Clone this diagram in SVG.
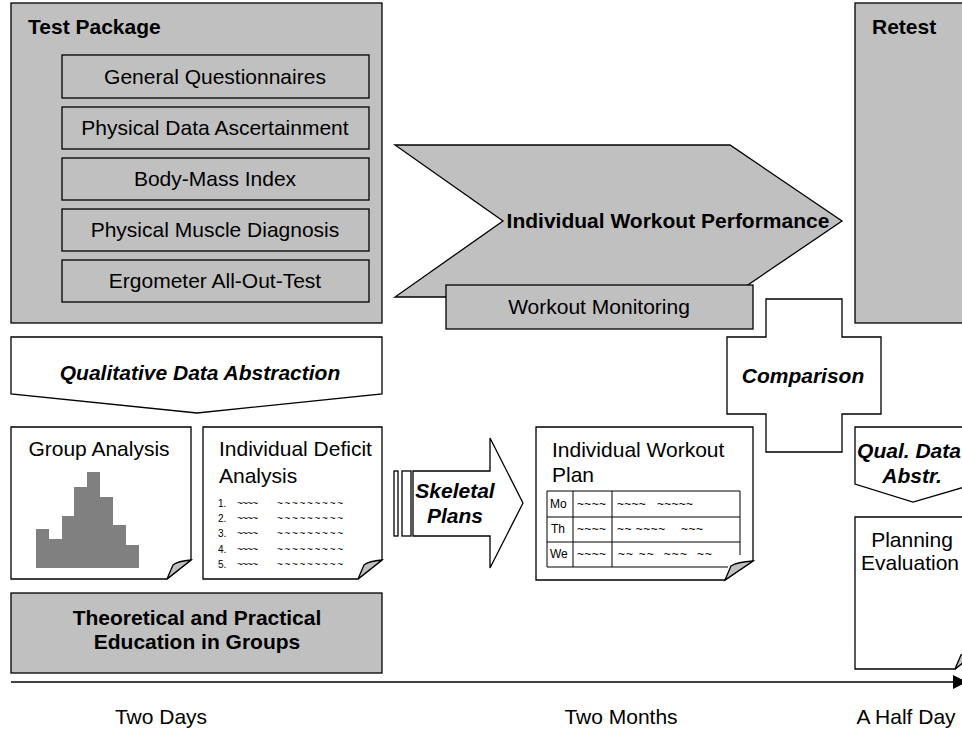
<svg xmlns="http://www.w3.org/2000/svg" width="962" height="729" viewBox="0 0 962 729">
<defs>
<style>
.t{font-family:"Liberation Sans",Arial,sans-serif;fill:#000}
.r{font-size:21px}
.b{font-size:21px;font-weight:bold}
.bi{font-size:21px;font-weight:bold;font-style:italic}
.m{text-anchor:middle}
.g{fill:#c0c0c0;stroke:#000;stroke-width:1.3}
.w{fill:#fff;stroke:#000;stroke-width:1.3}
.bar{fill:#808080}
.tl{stroke:#000;stroke-width:1;fill:none}
.sm{font-size:12px}
.xs{font-size:10px}
</style>
</defs>
<rect width="962" height="729" fill="#fff"/>

<g id="test-package">
<rect class="g" x="11" y="3" width="371" height="320"/>
<text class="t b" x="28" y="34">Test Package</text>
<rect class="g" x="62" y="55" width="307" height="43"/>
<text class="t r m" x="215" y="84">General Questionnaires</text>
<rect class="g" x="62" y="107" width="307" height="42"/>
<text class="t r m" x="215" y="135">Physical Data Ascertainment</text>
<rect class="g" x="62" y="158" width="307" height="42"/>
<text class="t r m" x="215" y="186">Body-Mass Index</text>
<rect class="g" x="62" y="209" width="307" height="42"/>
<text class="t r m" x="215" y="237">Physical Muscle Diagnosis</text>
<rect class="g" x="62" y="260" width="307" height="42"/>
<text class="t r m" x="215" y="288">Ergometer All-Out-Test</text>
</g>

<g id="workout-performance">
<polygon class="g" points="395,145 730,145 842,221 730,297 395,297 503,221"/>
<text class="t b m" x="668" y="228">Individual Workout Performance</text>
</g>

<g id="workout-monitoring">
<rect class="g" x="446" y="285" width="307" height="44"/>
<text class="t r m" x="599" y="314">Workout Monitoring</text>
</g>

<g id="retest">
<rect class="g" x="855" y="3" width="120" height="320"/>
<text class="t b" x="872" y="34">Retest</text>
</g>

<g id="qualitative-data-abstraction">
<polygon class="w" points="11,337 382,337 382,394 197,413 11,394"/>
<text class="t bi m" x="200" y="380">Qualitative Data Abstraction</text>
</g>

<g id="comparison">
<polygon class="w" points="766,299 842,299 842,337 881,337 881,414 842,414 842,452 766,452 766,414 727,414 727,337 766,337"/>
<text class="t bi m" x="803" y="383">Comparison</text>
</g>

<g id="group-analysis">
<path class="w" d="M11,427 H191 V560 L167,579 H11 Z"/>
<path class="g" d="M167,579 L173,565 Q178,561 191,560 Z"/>
<text class="t r m" x="99" y="456">Group Analysis</text>
<rect class="bar" x="36" y="529" width="13" height="39"/>
<rect class="bar" x="49" y="539" width="13" height="29"/>
<rect class="bar" x="62" y="516" width="12" height="52"/>
<rect class="bar" x="74" y="487" width="13" height="81"/>
<rect class="bar" x="87" y="472" width="13" height="96"/>
<rect class="bar" x="100" y="497" width="13" height="71"/>
<rect class="bar" x="113" y="525" width="13" height="43"/>
<rect class="bar" x="126" y="545" width="13" height="23"/>
</g>

<g id="individual-deficit-analysis">
<path class="w" d="M203,427 H382 V560 L358,579 H203 Z"/>
<path class="g" d="M358,579 L364,565 Q369,561 382,560 Z"/>
<text class="t r" x="219" y="456">Individual Deficit</text>
<text class="t r" x="219" y="483">Analysis</text>
<g class="t xs">
<text x="218" y="507">1.</text><text x="237" y="507" textLength="21" lengthAdjust="spacing">~~~~</text><text x="277" y="507" textLength="66" lengthAdjust="spacing">~~~~~~~~~</text>
<text x="218" y="522">2.</text><text x="237" y="522" textLength="21" lengthAdjust="spacing">~~~~</text><text x="277" y="522" textLength="66" lengthAdjust="spacing">~~~~~~~~~</text>
<text x="218" y="537">3.</text><text x="237" y="537" textLength="21" lengthAdjust="spacing">~~~~</text><text x="277" y="537" textLength="66" lengthAdjust="spacing">~~~~~~~~~</text>
<text x="218" y="553">4.</text><text x="237" y="553" textLength="21" lengthAdjust="spacing">~~~~</text><text x="277" y="553" textLength="66" lengthAdjust="spacing">~~~~~~~~~</text>
<text x="218" y="568">5.</text><text x="237" y="568" textLength="21" lengthAdjust="spacing">~~~~</text><text x="277" y="568" textLength="66" lengthAdjust="spacing">~~~~~~~~~</text>
</g>
</g>

<g id="skeletal-plans">
<rect class="w" x="394" y="471" width="4" height="65"/>
<rect class="w" x="402" y="471" width="9" height="65"/>
<polygon class="w" points="413,471 490,471 490,438 523,503 490,568 490,536 413,536"/>
<text class="t bi m" x="455" y="498">Skeletal</text>
<text class="t bi m" x="455" y="523">Plans</text>
</g>

<g id="individual-workout-plan">
<path class="w" d="M536,427 H753 V561 L725,580 H536 Z"/>
<text class="t r" x="552" y="457">Individual Workout</text>
<text class="t r" x="552" y="482">Plan</text>
<path class="tl" d="M547,491 H740 M547,517 H740 M547,542 H740 M547,567 H728 M547,491 V567 M573,491 V567 M612,491 V567 M740,491 V555"/>
<g class="t sm">
<text x="550" y="508">Mo</text><text x="577" y="508" textLength="29" lengthAdjust="spacing">~~~~</text><text x="617" y="508" xml:space="preserve" textLength="76" lengthAdjust="spacing">~~~~   ~~~~~</text>
<text x="551" y="533">Th</text><text x="577" y="533" textLength="29" lengthAdjust="spacing">~~~~</text><text x="617" y="533" xml:space="preserve" textLength="86" lengthAdjust="spacing">~~ ~~~~    ~~~</text>
<text x="550" y="558">We</text><text x="577" y="558" textLength="29" lengthAdjust="spacing">~~~~</text><text x="618" y="558" xml:space="preserve" textLength="94" lengthAdjust="spacing">~~ ~~  ~~~  ~~</text>
</g>
<path class="g" d="M725,580 L731,566 Q737,562 753,561 Z"/>
</g>

<g id="qual-data-abstr">
<polygon class="w" points="855,427 975,427 975,484 913,502 855,484"/>
<text class="t bi m" x="909" y="458">Qual. Data</text>
<text class="t bi m" x="912" y="483">Abstr.</text>
</g>

<g id="planning-evaluation">
<path class="w" d="M855,517 H979 V650 L955,669 H855 Z"/>
<path class="g" d="M955,669 L961,655 Q966,651 979,650 Z"/>
<text class="t r m" x="912" y="547">Planning</text>
<text class="t r m" x="910" y="570">Evaluation</text>
</g>

<g id="education">
<rect class="g" x="11" y="593" width="371" height="80"/>
<text class="t b m" x="197" y="625">Theoretical and Practical</text>
<text class="t b m" x="197" y="649">Education in Groups</text>
</g>

<g id="connectors">
<line x1="11" y1="682" x2="956" y2="682" stroke="#000" stroke-width="1.5"/>
<polygon points="953,675 967,682 953,689" fill="#000"/>
</g>

<g id="timeline-labels">
<text class="t r m" x="161" y="724">Two Days</text>
<text class="t r m" x="621" y="724">Two Months</text>
<text class="t r m" x="906" y="724">A Half Day</text>
</g>
</svg>
